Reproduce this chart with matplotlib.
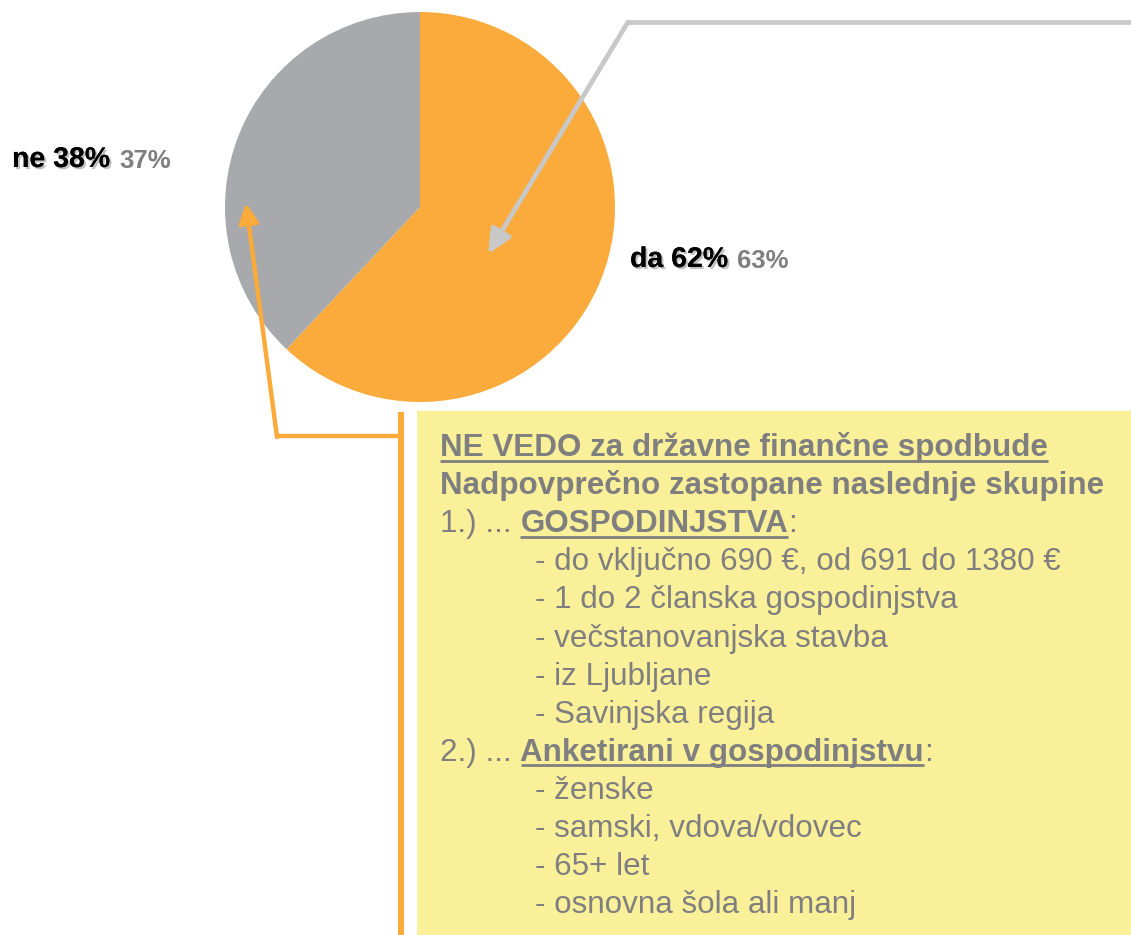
import matplotlib
matplotlib.use("Agg")
import matplotlib.pyplot as plt
import matplotlib.patheffects as pe
from matplotlib.patches import Rectangle

W, H = 1131, 935

# data
labels = ["da", "ne"]
shares = [62, 38]          # current survey
prev_shares = [63, 37]     # comparison values (grey)

ORANGE = "#fbab3b"
SLICE_GREY = "#a7a9ac"
ARROW_GREY = "#c8c8c8"
YELLOW = "#fbf09a"
TXT_GREY = "#7f7f7f"

plt.rcParams["font.family"] = ["Liberation Sans", "DejaVu Sans"]

# box text: list of lines, each a list of (text, bold, underline)
box_lines = [
    [("NE VEDO za državne finančne spodbude", True, True)],
    [("Nadpovprečno zastopane naslednje skupine", True, False)],
    [("1.) ... ", False, False), ("GOSPODINJSTVA", True, True), (":", False, False)],
    [("- do vključno 690 €, od 691 do 1380 €", False, False)],
    [("- 1 do 2 članska gospodinjstva", False, False)],
    [("- večstanovanjska stavba", False, False)],
    [("- iz Ljubljane", False, False)],
    [("- Savinjska regija", False, False)],
    [("2.) ... ", False, False), ("Anketirani v gospodinjstvu", True, True), (":", False, False)],
    [("- ženske", False, False)],
    [("- samski, vdova/vdovec", False, False)],
    [("- 65+ let", False, False)],
    [("- osnovna šola ali manj", False, False)],
]
indented = [False, False, False, True, True, True, True, True, False, True, True, True, True]


def Y(y):
    return H - y


fig = plt.figure(figsize=(W / 100, H / 100), dpi=100)
fig.patch.set_facecolor("white")
ax = fig.add_axes([0, 0, 1, 1])

# pie
ax.pie(shares, colors=[ORANGE, SLICE_GREY], startangle=90, counterclock=False,
       center=(420, Y(207)), radius=195, frame=True,
       wedgeprops=dict(linewidth=0))
ax.set_xlim(0, W)
ax.set_ylim(0, H)
ax.set_aspect("equal")
ax.axis("off")

# yellow box + orange bar
ax.add_patch(Rectangle((417, 0), W - 417, Y(411), facecolor=YELLOW, edgecolor="none", zorder=1))
ax.plot([401, 401], [Y(412), 0], color=ORANGE, lw=4.3, solid_capstyle="butt", zorder=2)

# orange arrow to the grey slice
ax.plot([401, 277], [Y(435.5), Y(435.5)], color=ORANGE, lw=3.2,
        solid_capstyle="butt", solid_joinstyle="miter", zorder=3)
ax.annotate("", xy=(246, Y(203)), xytext=(277, Y(437)),
            arrowprops=dict(arrowstyle="-|>,head_length=0.9,head_width=0.45",
                            color=ORANGE, lw=3.2, shrinkA=0, shrinkB=0,
                            mutation_scale=13), zorder=3)

# grey arrow into the orange slice
ax.plot([W, 628], [Y(22), Y(22)], color=ARROW_GREY, lw=3.4,
        solid_capstyle="butt", zorder=3)
ax.annotate("", xy=(488, Y(254)), xytext=(628, Y(22)),
            arrowprops=dict(arrowstyle="-|>,head_length=0.9,head_width=0.42",
                            color=ARROW_GREY, lw=3.4, shrinkA=0, shrinkB=0,
                            mutation_scale=16), zorder=3)

# slice labels
shadow = [pe.withSimplePatchShadow(offset=(1.5, -1.5), shadow_rgbFace="#999999", alpha=0.6),
          pe.Normal()]
label_pos = {"da": (630, 260), "ne": (12, 160)}
fig.canvas.draw()
renderer = fig.canvas.get_renderer()
for lab, s, p in zip(labels, shares, prev_shares):
    x, y = label_pos[lab]
    t = ax.text(x, Y(y), f"{lab} {s}%", fontsize=20.5, fontweight="bold", color="black",
                va="center", ha="left", path_effects=shadow, zorder=5)
    bb = t.get_window_extent(renderer)
    ax.text(bb.x1 + 9, Y(y) - 1, f"{p}%", fontsize=18.5, fontweight="bold", color=TXT_GREY,
            va="center", ha="left", zorder=5)

# box text
base0 = 456
pitch = 38.1
for i, (parts, ind) in enumerate(zip(box_lines, indented)):
    x = 535 if ind else 440
    yb = Y(base0 + i * pitch)
    for txt, bold, ul in parts:
        t = ax.text(x, yb, txt, fontsize=22.6, color=TXT_GREY,
                    fontweight="bold" if bold else "normal",
                    va="baseline", ha="left", zorder=5)
        bb = t.get_window_extent(renderer)
        if ul:
            ax.plot([bb.x0, bb.x1], [yb - 4.5, yb - 4.5], color=TXT_GREY, lw=2,
                    solid_capstyle="butt", zorder=5)
        x = bb.x1

fig.savefig("out.png", dpi=100, facecolor="white")
